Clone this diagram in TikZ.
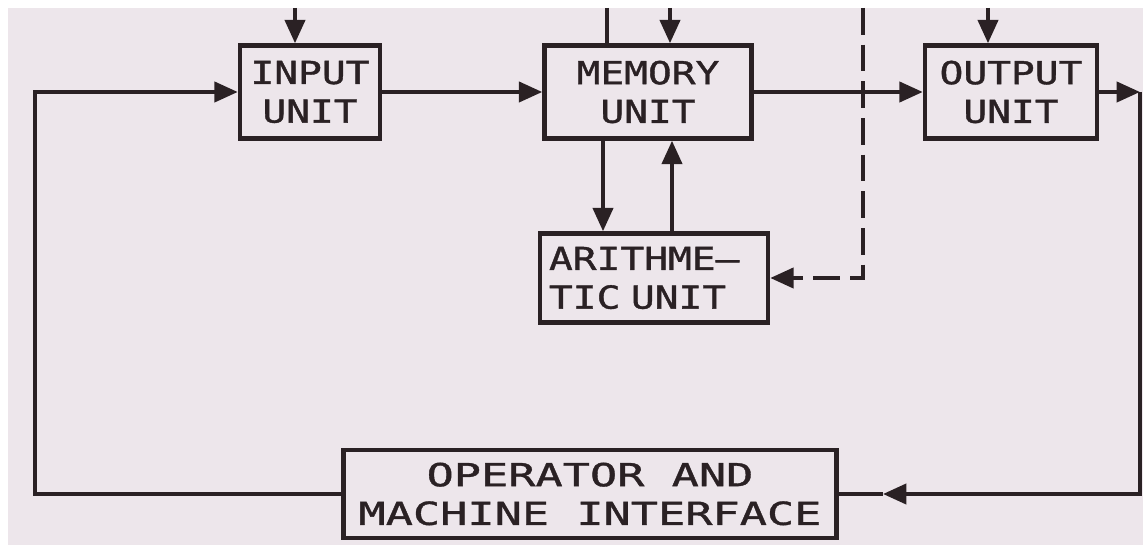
\documentclass[tikz,border=0pt]{standalone}
\usepackage{fontspec}
\usepackage{xcolor}
\usepackage{tikz}
\usetikzlibrary{positioning,arrows.meta,calc}
\newfontfamily\lettering[FakeStretch=1.25,FakeBold=1.2]{DejaVu Sans Mono}
\newfontfamily\letteringwide[FakeStretch=1.43,FakeBold=1.2]{DejaVu Sans Mono}
\definecolor{ink}{HTML}{2A2124}
\definecolor{paper}{HTML}{EDE6EB}
\tikzset{
  box/.style={draw=ink,line width=3.8pt,align=center,inner sep=0pt,text=ink,
              font=\lettering\fontsize{27pt}{33pt}\selectfont},
  arr/.style={-{Triangle[length=0.7cm,width=0.6cm]},draw=ink,line width=3.4pt},
  line/.style={draw=ink,line width=3.4pt},
  darr/.style={-{Triangle[length=0.7cm,width=0.6cm]},draw=ink,line width=3.4pt,
               dash pattern=on 0.8cm off 0.3cm}
}

\begin{document}
\begin{tikzpicture}[x=0.03cm,y=-0.03cm]
  % page
  \useasboundingbox (0,0) rectangle (1143,545);
  \fill[white] (0,0) rectangle (1143,545);
  \fill[paper] (8,8) rectangle (1143,545);

  % units
  \node[box,minimum width=4.2cm,minimum height=2.79cm] (input) at (310,92) {INPUT\\UNIT};
  \node[box,minimum width=6.21cm,minimum height=2.79cm] (memory) at (648,92) {MEMORY\\UNIT};
  \node[box,minimum width=5.16cm,minimum height=2.79cm] (output) at (1011,92) {OUTPUT\\UNIT};
  \node[box,minimum width=6.84cm,minimum height=2.67cm,align=left,text width=6.3cm] (arith) at (654,278) {ARITHME–\\TIC UNIT};
  \node[box,minimum width=14.8cm,minimum height=2.64cm,
        font=\letteringwide\fontsize{27pt}{33pt}\selectfont] (oper) at (590,494) {OPERATOR AND\\MACHINE INTERFACE};

  % feeds from above
  \coordinate (intop) at (295,8);
  \coordinate (memtopa) at (607,8);
  \coordinate (memtopb) at (670,8);
  \coordinate (dashtop) at (863,8);
  \coordinate (outtop) at (988,8);
  \draw[arr] (intop) -- (intop |- input.north);
  \draw[line] (memtopa) -- (memtopa |- memory.north);
  \draw[arr] (memtopb) -- (memtopb |- memory.north);
  \draw[arr] (outtop) -- (outtop |- output.north);
  \draw[darr] (dashtop) |- (arith.east);

  % main flow
  \draw[arr] (input) -- (memory);
  \draw[arr] (memory) -- (output);
  \coordinate (memarith) at (603,0);
  \coordinate (arithmem) at (672,0);
  \draw[arr] (memarith |- memory.south) -- (memarith |- arith.north);
  \draw[arr] (arithmem |- arith.north) -- (arithmem |- memory.south);

  % loop back
  \coordinate (rightturn) at (1140,92);
  \coordinate (operin) at (883,494);
  \coordinate (leftturn) at (35,494);
  \draw[arr] (output.east) -- (rightturn);
  \draw[arr] (rightturn) |- (operin);
  \draw[line] (operin) -- (oper.east);
  \draw[arr] (oper.west) -- (leftturn) |- (input.west);
\end{tikzpicture}
\end{document}
